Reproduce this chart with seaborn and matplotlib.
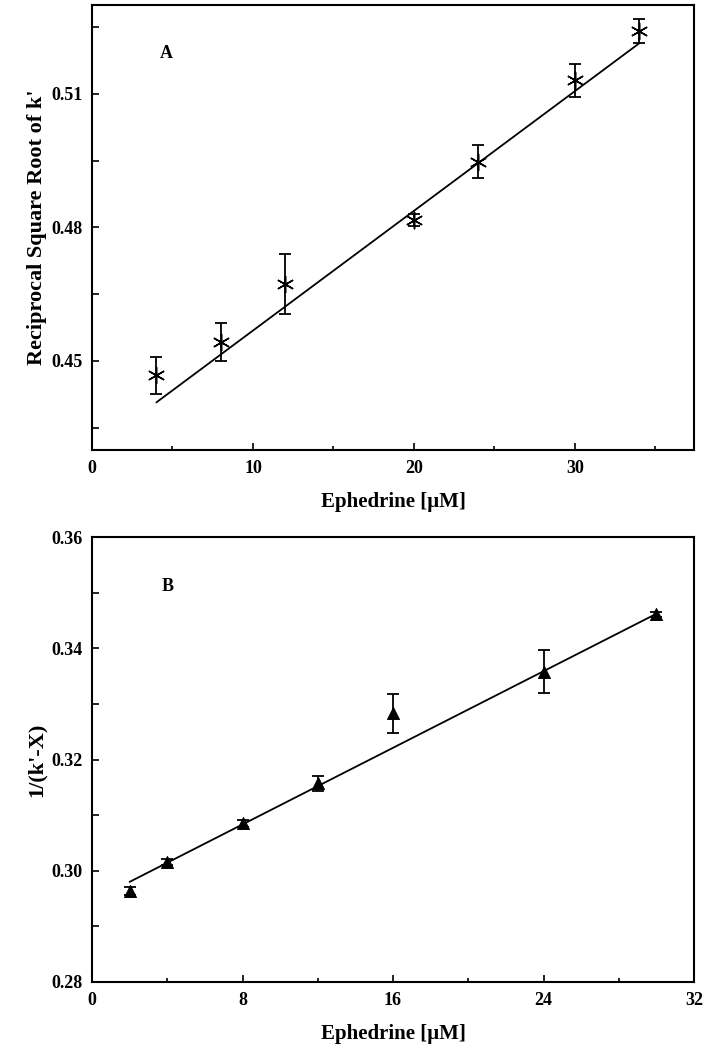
import numpy as np
import pandas as pd
import matplotlib
matplotlib.use("Agg")
import matplotlib.pyplot as plt
from matplotlib.ticker import FixedLocator
import seaborn as sns

# ---- Panel A data ----
a_x = [4, 8, 12, 20, 24, 30, 34]
a_y = [0.4468, 0.4543, 0.4673, 0.4817, 0.4948, 0.5131, 0.5242]
a_err = [0.0042, 0.0043, 0.0067, 0.0013, 0.0037, 0.0037, 0.0027]
a_fit_x = [4, 34]
a_fit_y = [0.4407, 0.5214]

# ---- Panel B data ----
b_x = [2, 4, 8, 12, 16, 24, 30]
b_y = [0.2963, 0.3016, 0.3085, 0.3157, 0.3283, 0.3358, 0.3461]
b_err = [0.0007, 0.0006, 0.0006, 0.0013, 0.0035, 0.0038, 0.0005]
b_fit_x = [2, 30]
b_fit_y = [0.2980, 0.3462]

a_xticks = [0, 10, 20, 30]
a_yticks = [0.45, 0.48, 0.51]
b_xticks = [0, 8, 16, 24, 32]
b_yticks = [0.28, 0.30, 0.32, 0.34, 0.36]

sns.set_theme(style="ticks")
plt.rcParams['font.family'] = ['Liberation Serif', 'DejaVu Serif']
plt.rcParams['font.weight'] = 'bold'
plt.rcParams['axes.labelweight'] = 'bold'
plt.rcParams['text.color'] = 'black'
plt.rcParams['axes.labelcolor'] = 'black'
plt.rcParams['xtick.color'] = 'black'
plt.rcParams['ytick.color'] = 'black'

fig = plt.figure(figsize=(7.07, 10.51), dpi=100)
axA = fig.add_axes([92/707, 1-450/1051, 602/707, 445/1051])
axB = fig.add_axes([92/707, 1-982/1051, 602/707, 445/1051])

dfA = pd.DataFrame({"x": a_x, "y": a_y, "err": a_err})
dfB = pd.DataFrame({"x": b_x, "y": b_y, "err": b_err})
fitA = pd.DataFrame({"x": a_fit_x, "y": a_fit_y})
fitB = pd.DataFrame({"x": b_fit_x, "y": b_fit_y})

# Panel A
sns.lineplot(data=fitA, x="x", y="y", ax=axA, color="black", lw=1.3)
axA.errorbar(dfA["x"], dfA["y"], yerr=dfA["err"], fmt="none", ecolor="black",
             elinewidth=1.3, capsize=4, capthick=1.3)
sns.scatterplot(data=dfA, x="x", y="y", ax=axA, marker=(6, 2, 0), s=140,
                color="black", linewidth=1.1, edgecolor="black", zorder=5)

# Panel B
sns.lineplot(data=fitB, x="x", y="y", ax=axB, color="black", lw=1.3)
axB.errorbar(dfB["x"], dfB["y"], yerr=dfB["err"], fmt="none", ecolor="black",
             elinewidth=1.3, capsize=4, capthick=1.3)
sns.scatterplot(data=dfB, x="x", y="y", ax=axB, marker="^", s=75,
                color="black", edgecolor="black", zorder=5)

def style(ax, xlim, ylim, xticks, xminor, yticks, yminor, yfmt):
    ax.set_xlim(*xlim)
    ax.set_ylim(*ylim)
    ax.xaxis.set_major_locator(FixedLocator(xticks))
    ax.xaxis.set_minor_locator(FixedLocator(xminor))
    ax.yaxis.set_major_locator(FixedLocator(yticks))
    ax.yaxis.set_minor_locator(FixedLocator(yminor))
    ax.set_yticklabels([yfmt.format(v) for v in yticks])
    ax.set_xticklabels([str(v) for v in xticks])
    ax.tick_params(which="major", direction="in", length=5, width=1.2,
                   labelsize=13, pad=7, colors="black")
    ax.tick_params(axis="x", which="minor", direction="in", length=3, width=1.2)
    ax.tick_params(axis="y", which="minor", direction="in", length=5, width=1.2)
    for sp in ax.spines.values():
        sp.set_visible(True)
        sp.set_linewidth(1.5)
        sp.set_color("black")
    for lab in ax.get_xticklabels() + ax.get_yticklabels():
        lab.set_fontweight("bold")
    ax.set_xlabel("Ephedrine [\u03bcM]", fontsize=15, fontweight="bold", labelpad=11)

style(axA, (0, 37.4), (0.43, 0.53), a_xticks, [5, 15, 25, 35],
      a_yticks, [0.435, 0.465, 0.495, 0.525], "{:.2f}")
axA.set_ylabel("Reciprocal Square Root of k'", fontsize=16, fontweight="bold", labelpad=3)
axA.text(0.123, 0.892, "A", transform=axA.transAxes, fontsize=13,
         fontweight="bold", ha="center", va="center")

style(axB, (0, 32), (0.28, 0.36), b_xticks, [4, 12, 20, 28],
      b_yticks, [0.29, 0.31, 0.33, 0.35], "{:.2f}")
axB.set_ylabel("1/(k'-X)", fontsize=16, fontweight="bold", labelpad=3)
axB.text(0.125, 0.888, "B", transform=axB.transAxes, fontsize=13,
         fontweight="bold", ha="center", va="center")

fig.savefig("out.png", dpi=100)
